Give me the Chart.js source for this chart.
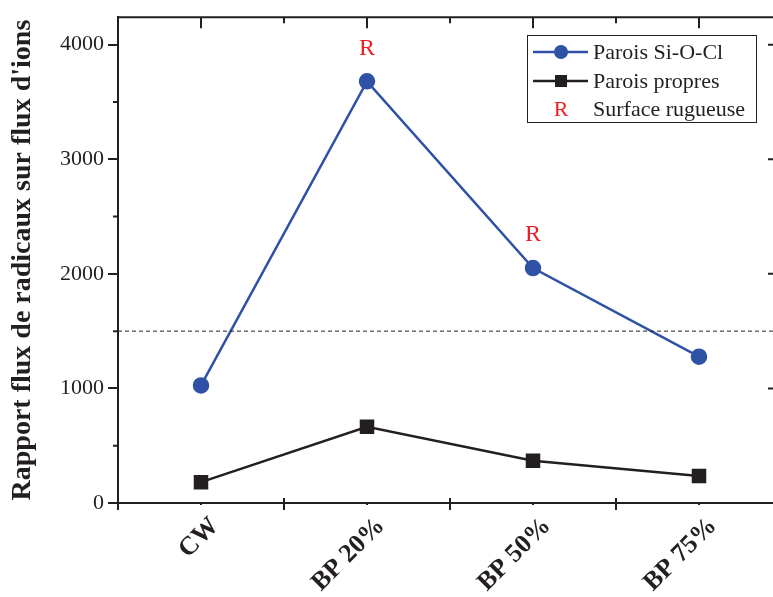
<!DOCTYPE html>
<html>
<head>
<meta charset="utf-8">
<script src="https://cdn.jsdelivr.net/npm/chart.js@4.4.1/dist/chart.umd.min.js"></script>
<style>
  html, body { margin: 0; padding: 0; background: #fff; overflow: hidden; }
  #wrap { width: 773px; height: 597px; overflow: hidden; }
</style>
</head>
<body>
<div id="wrap"><canvas id="chart" width="800" height="597"></canvas></div>
<script>
// données
const categories = ['CW', 'BP 20%', 'BP 50%', 'BP 75%'];
const siOCl = [1026, 3680, 2050, 1277];
const propres = [182, 665, 368, 235];
const rough = [false, true, true, false];   // "R" = surface rugueuse
const yTicks = [0, 1000, 2000, 3000, 4000];
const yMinor = [500, 1500, 2500, 3500];
const threshold = 1500;

const FONT = '"Liberation Serif", "Times New Roman", serif';
const INK = '#231f20';
const BLUE = '#2f52a6';
const RED = '#ee1d23';

// cadre, ticks secondaires, ligne pointillée, "R" et légende
const decor = {
  id: 'decor',
  afterDatasetsDraw(chart) {
    const { ctx, chartArea: a, scales: { x, y } } = chart;
    ctx.save();

    // ligne pointillée
    const yt = y.getPixelForValue(threshold);
    ctx.strokeStyle = INK;
    ctx.lineWidth = 1;
    ctx.setLineDash([4, 3]);
    ctx.beginPath();
    ctx.moveTo(a.left, yt);
    ctx.lineTo(a.right, yt);
    ctx.stroke();
    ctx.setLineDash([]);

    // axes haut et droite
    ctx.lineWidth = 2;
    ctx.beginPath();
    ctx.moveTo(a.left, a.top);
    ctx.lineTo(a.right, a.top);
    ctx.lineTo(a.right, a.bottom);
    ctx.stroke();

    // ticks
    const step = x.getPixelForValue(1) - x.getPixelForValue(0);
    ctx.beginPath();
    yMinor.forEach(v => {
      const p = y.getPixelForValue(v);
      ctx.moveTo(a.left - 5, p); ctx.lineTo(a.left, p);
      ctx.moveTo(a.right - 7, p); ctx.lineTo(a.right, p);
    });
    yTicks.forEach(v => {
      const p = y.getPixelForValue(v);
      ctx.moveTo(a.right - 14, p); ctx.lineTo(a.right, p);
    });
    categories.forEach((c, i) => {
      const p = x.getPixelForValue(i);
      ctx.moveTo(p, a.top); ctx.lineTo(p, a.top + 11);
      ctx.moveTo(p, a.bottom); ctx.lineTo(p, a.bottom + 2);
      const b = p + step / 2;
      ctx.moveTo(b, a.top); ctx.lineTo(b, a.top + 6);
      const bl = p - step / 2;
      ctx.moveTo(bl, a.bottom - 5); ctx.lineTo(bl, a.bottom);
    });
    ctx.stroke();

    // R au-dessus des points
    const meta = chart.getDatasetMeta(0);
    ctx.fillStyle = RED;
    ctx.font = '24px ' + FONT;
    ctx.textAlign = 'center';
    ctx.textBaseline = 'middle';
    rough.forEach((r, i) => {
      if (!r) return;
      const pt = meta.data[i];
      ctx.fillText('R', pt.x, pt.y - 33);
    });

    // légende
    ctx.lineWidth = 1;
    ctx.strokeStyle = INK;
    ctx.strokeRect(527.5, 35.5, 229, 87);
    ctx.font = '22px ' + FONT;
    ctx.textAlign = 'left';
    const rows = [52, 81, 109];
    chart.data.datasets.forEach((ds, i) => {
      const ry = rows[i];
      ctx.strokeStyle = ds.borderColor;
      ctx.lineWidth = 2.5;
      ctx.beginPath();
      ctx.moveTo(533, ry); ctx.lineTo(588, ry);
      ctx.stroke();
      ctx.fillStyle = ds.backgroundColor;
      if (ds.pointStyle === 'rect') {
        ctx.fillRect(555, ry - 6, 12, 12);
      } else {
        ctx.beginPath();
        ctx.arc(561, ry, 7, 0, Math.PI * 2);
        ctx.fill();
      }
      ctx.fillStyle = INK;
      ctx.fillText(ds.label, 593, ry + 1);
    });
    ctx.fillStyle = RED;
    ctx.textAlign = 'center';
    ctx.fillText('R', 561, rows[2] + 1);
    ctx.fillStyle = INK;
    ctx.textAlign = 'left';
    ctx.fillText('Surface rugueuse', 593, rows[2] + 1);

    ctx.restore();
  }
};

new Chart(document.getElementById('chart'), {
  type: 'line',
  data: {
    labels: categories,
    datasets: [
      {
        label: 'Parois Si-O-Cl',
        data: siOCl,
        borderColor: BLUE,
        backgroundColor: BLUE,
        borderWidth: 2.5,
        pointStyle: 'circle',
        pointRadius: 7,
        pointHoverRadius: 7
      },
      {
        label: 'Parois propres',
        data: propres,
        borderColor: INK,
        backgroundColor: INK,
        borderWidth: 2.5,
        pointStyle: 'rect',
        pointRadius: 8.5,
        pointHoverRadius: 8.5
      }
    ]
  },
  options: {
    responsive: false,
    animation: false,
    devicePixelRatio: 1,
    layout: { padding: { top: 15, right: 18, left: 0, bottom: 0 } },
    plugins: {
      legend: { display: false },
      tooltip: { enabled: false }
    },
    scales: {
      x: {
        offset: true,
        grid: {
          offset: true,
          drawOnChartArea: false,
          drawTicks: true,
          tickLength: 7,
          color: INK,
          lineWidth: 2
        },
        border: { display: true, color: INK, width: 2 },
        ticks: {
          color: INK,
          font: { family: FONT, size: 26, weight: 'bold' },
          minRotation: 45,
          maxRotation: 45,
          labelOffset: 14,
          padding: 1
        },
        afterFit(s) { s.height = 94; }
      },
      y: {
        min: 0,
        max: 4240,
        afterBuildTicks(s) { s.ticks = yTicks.map(v => ({ value: v })); },
        grid: {
          drawOnChartArea: false,
          drawTicks: true,
          tickLength: 10,
          color: INK,
          lineWidth: 2
        },
        border: { display: true, color: INK, width: 2 },
        ticks: {
          color: INK,
          font: { family: FONT, size: 22 },
          padding: 4,
          callback: v => String(v)
        },
        title: {
          display: true,
          text: "Rapport flux de radicaux sur flux d'ions",
          color: INK,
          font: { family: FONT, size: 28, weight: 'bold' },
          padding: { top: 6, bottom: 0 }
        },
        afterFit(s) { s.width = 118; }
      }
    }
  },
  plugins: [decor]
});
</script>
</body>
</html>
